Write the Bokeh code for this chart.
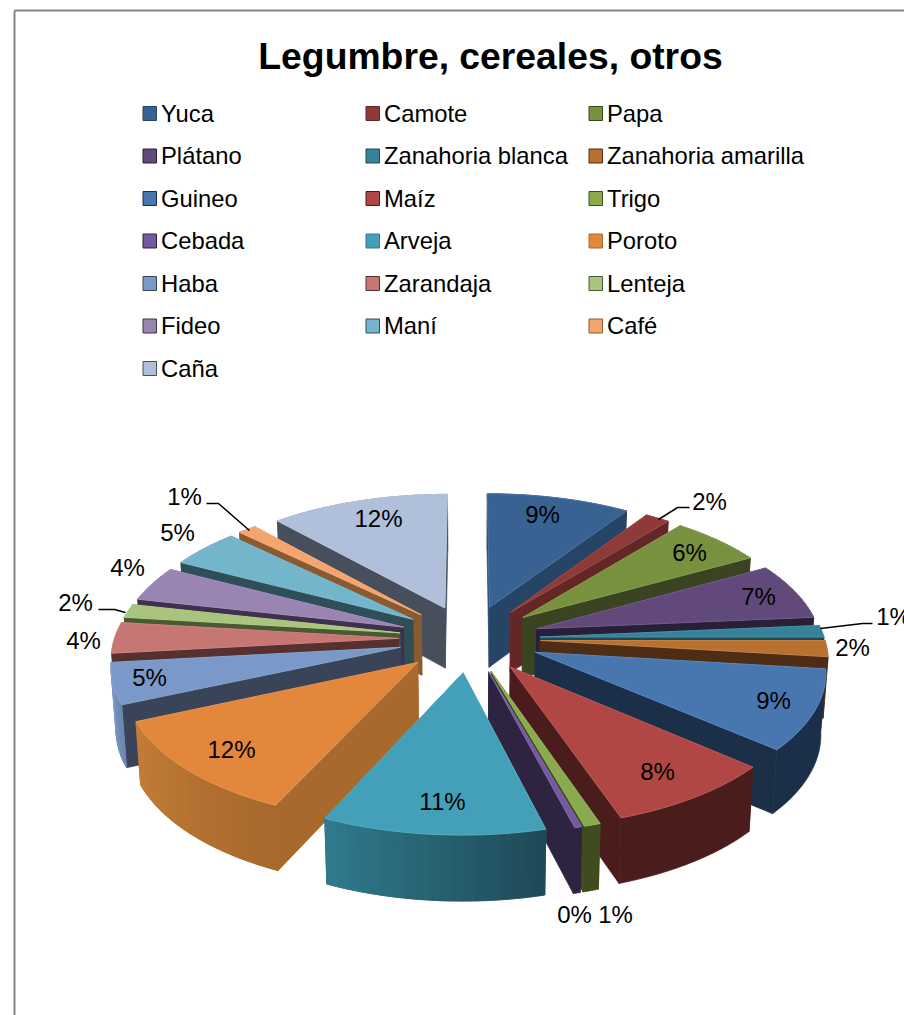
import math
from bokeh.core.properties import value
from bokeh.embed import file_html
from bokeh.models import Range1d
from bokeh.plotting import figure
from bokeh.resources import INLINE

TITLE = "Legumbre, cereales, otros"
CATEGORIES = ["Yuca", "Camote", "Papa", "Plátano", "Zanahoria blanca", "Zanahoria amarilla",
              "Guineo", "Maíz", "Trigo", "Cebada", "Arveja", "Poroto",
              "Haba", "Zarandaja", "Lenteja", "Fideo", "Maní", "Café", "Caña"]
SHARES = [9.3, 1.6, 6.0, 6.7, 1.4, 1.9, 9.45, 8.45, 0.8, 0.35, 10.9, 11.55,
          4.85, 3.65, 1.6, 4.15, 4.55, 1.2, 11.6]

TOP_COLORS = ["#386292", "#8e3a38", "#78913f", "#614a7b", "#35829a", "#b97130",
              "#4877b0", "#b04744", "#8aab4d", "#7459a0", "#43a0b8", "#e2873c",
              "#7a99c8", "#c67673", "#a9c47c", "#9a84b1", "#73b5cb", "#f4a46f", "#b0c0da"]
WALL_COLORS = ["#264566", "#642726", "#3a4420", "#2a1f39", "#1a4a5a", "#4e2d14",
               "#1b3048", "#4a1c1c", "#3f4c20", "#2e2340", "#2f7a8c", "#a8692c",
               "#3a4458", "#573030", "#4a5a30", "#40304f", "#2f4f58", "#8a5a30", "#474f5c"]
# Outer wall shading: colour at the start and the end of each arc
RIM_START = ["#264566", "#642726", "#3a4420", "#2a1f39", "#1a4a5a", "#4e2d14",
             "#1b3048", "#4a1c1c", "#3f4c20", "#2e2340", "#1f4a58", "#a8692c",
             "#6d88b0", "#8a5050", "#6a8048", "#6a5880", "#2f4f58", "#8a5a30", "#474f5c"]
RIM_END = ["#264566", "#642726", "#3a4420", "#2a1f39", "#1a4a5a", "#4e2d14",
           "#1b3048", "#4a1c1c", "#3f4c20", "#2e2340", "#2f7a8c", "#c27c38",
           "#7a99c8", "#8a5050", "#6a8048", "#6a5880", "#2f4f58", "#8a5a30", "#474f5c"]

# Data label centres and leader lines, in page pixels
LABEL_XY = [(542, 514), (709, 501), (689, 552), (758, 596), (893, 616), (852, 647),
            (773, 700), (657, 771), (615, 914), (574, 914), (442, 801), (231, 749),
            (149, 677), (83, 640), (75, 602), (127, 567), (177, 532), (184, 496), (378, 518)]
LEADERS = [([658, 677, 689], [519, 507, 507]),
           ([820, 862, 872], [628, 623, 623]),
           ([98, 114, 125], [609, 609, 612]),
           ([206, 218, 249], [503, 503, 530])]

# Projection of the tilted pie
CX, CY = 469.0, 638.0
RX, RY = 284.0, 134.0
PERSPECTIVE = 0.119
EXPLODE = 0.25
FONT = value("Liberation Sans")


def project(u, v):
    s = 1.0 / (1.0 + PERSPECTIVE * v)
    return CX + RX * u * s, CY - RY * v * s


def extrude(u, v):
    x, y = project(u, v)
    return CX + (x - CX) * 0.986, y + 61.0 - 4.0 * v


def mix(a, b, t):
    ca = [int(a[i:i + 2], 16) for i in (1, 3, 5)]
    cb = [int(b[i:i + 2], 16) for i in (1, 3, 5)]
    return "#%02x%02x%02x" % tuple(round(p + (q - p) * t) for p, q in zip(ca, cb))


p = figure(width=904, height=1015, output_backend="svg", toolbar_location=None,
           x_range=Range1d(0, 904), y_range=Range1d(1015, 0), min_border=0)
p.axis.visible = False
p.grid.visible = False
p.outline_line_color = None

# Chart frame
p.line([14, 14], [10, 1015], line_color="#868686", line_width=2)
p.line([14, 904], [10, 10], line_color="#868686", line_width=2)

# Title
p.text([490], [55], text=[TITLE], text_font=FONT, text_font_style="bold",
       text_font_size="37.3px", text_align="center", text_baseline="middle", text_color="#000000")

# Legend, three columns
for i, name in enumerate(CATEGORIES):
    col, row = i % 3, i // 3
    left = [142.5, 365.5, 588.5][col]
    mid = 113 + row * 42.5
    p.quad(left=[left], right=[left + 13.5], top=[mid - 7], bottom=[mid + 7],
           fill_color=TOP_COLORS[i], line_color=WALL_COLORS[i], line_width=1)
    p.text([left + 18], [mid - 0.5], text=[name], text_font=FONT, text_font_size="23.8px",
           text_align="left", text_baseline="middle", text_color="#000000")

# Slice geometry from the shares
total = sum(SHARES)
slices = []
cum = 0.0
for i, share in enumerate(SHARES):
    a0 = 2 * math.pi * cum / total
    cum += share
    a1 = 2 * math.pi * cum / total
    mid = (a0 + a1) / 2
    slices.append((math.cos(mid), i, a0, a1, mid))


def fill_outline(pts, color):
    p.patch([c[0] for c in pts], [c[1] for c in pts], fill_color=color,
            line_color=color, line_width=0.7)


# Paint from the back of the pie to the front
for _, i, a0, a1, mid in sorted(slices, key=lambda s: -s[0]):
    ou, ov = EXPLODE * math.sin(mid), EXPLODE * math.cos(mid)
    steps = max(2, int((a1 - a0) / math.radians(2)))
    rim = [(ou + math.sin(a0 + (a1 - a0) * k / steps),
            ov + math.cos(a0 + (a1 - a0) * k / steps)) for k in range(steps + 1)]

    faces = []
    for edge in (rim[0], rim[-1]):
        corners = [(ou, ov), edge]
        faces.append(((ov + edge[1]) / 2, "wall", corners))
    faces.append((sum(c[1] for c in rim) / len(rim), "rim", rim))
    for _, kind, pts in sorted(faces, key=lambda f: -f[0]):
        if kind == "wall":
            fill_outline([project(*c) for c in pts] + [extrude(*c) for c in reversed(pts)],
                         WALL_COLORS[i])
            continue
        # One solid band under the arc, then the shading on top of it
        fill_outline([project(*c) for c in pts] + [extrude(*c) for c in reversed(pts)],
                     mix(RIM_START[i], RIM_END[i], 0.5))
        if RIM_START[i] != RIM_END[i]:
            for k in range(steps):
                color = mix(RIM_START[i], RIM_END[i], k / max(1, steps - 1))
                q0, q1 = pts[k], pts[k + 1]
                fill_outline([project(*q0), project(*q1), extrude(*q1), extrude(*q0)], color)

    top = [project(ou, ov)] + [project(*c) for c in rim]
    p.patch([c[0] for c in top], [c[1] for c in top], fill_color=TOP_COLORS[i],
            line_color=mix(TOP_COLORS[i], "#ffffff", 0.12), line_width=1)

# Leader lines and percentage labels
for xs, ys in LEADERS:
    p.line(xs, ys, line_color="#000000", line_width=1.5)
for share, (x, y) in zip(SHARES, LABEL_XY):
    p.text([x], [y - 0.5], text=[f"{round(100 * share / total)}%"], text_font=FONT,
           text_font_size="24px", text_align="center", text_baseline="middle",
           text_color="#000000")

open("out.html", "w").write(file_html(p, INLINE))
